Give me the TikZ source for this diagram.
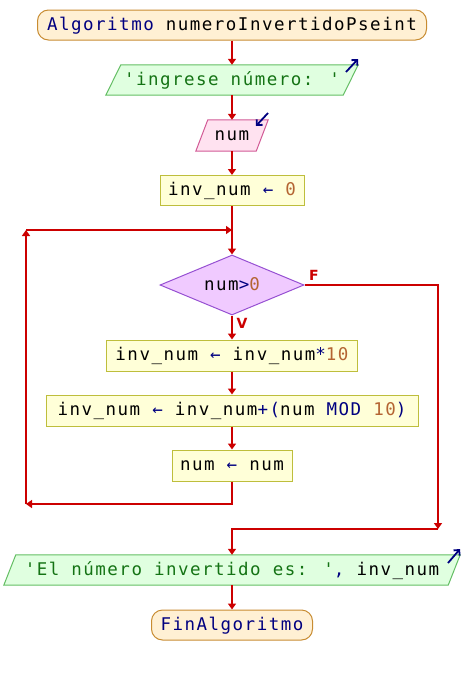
\documentclass[tikz,border=0pt]{standalone}
\usepackage{fontspec}
\usetikzlibrary{arrows.meta,shapes.geometric,backgrounds,calc}
\newfontfamily\codefont[LetterSpace=8.5]{DejaVu Sans Mono}
\newfontfamily\labfont{DejaVu Sans}
\definecolor{kw}{RGB}{0,0,128}
\definecolor{strc}{RGB}{20,115,20}
\definecolor{numc}{RGB}{180,100,50}
\definecolor{flowc}{RGB}{204,0,0}
\definecolor{termfill}{RGB}{255,240,212}
\definecolor{termdraw}{RGB}{200,140,50}
\definecolor{outfill}{RGB}{224,255,224}
\definecolor{outdraw}{RGB}{100,190,100}
\definecolor{infill}{RGB}{255,226,240}
\definecolor{indraw}{RGB}{210,90,150}
\definecolor{asfill}{RGB}{255,255,216}
\definecolor{asdraw}{RGB}{190,190,60}
\definecolor{dfill}{RGB}{240,202,255}
\definecolor{ddraw}{RGB}{150,80,210}
\tikzset{
  base/.style={font=\codefont\fontsize{17.5}{20}\selectfont, inner sep=0pt, minimum height=30pt, text height=13pt, text depth=3pt},
  term/.style={base, draw=termdraw, fill=termfill, line width=1pt, rounded corners=11pt},
  assign/.style={base, draw=asdraw, fill=asfill, line width=1pt},
  para/.style={base},
  outshape/.style={draw=outdraw, fill=outfill, line width=1pt},
  inshape/.style={draw=indraw, fill=infill, line width=1pt},
  cond/.style={base, diamond, draw=ddraw, fill=dfill, line width=1pt, minimum width=144pt, minimum height=60pt, aspect=2.4},
  flow/.style={draw=flowc, line width=1.8pt, -{Triangle[length=6pt,width=8pt]}},
  icon/.style={draw=kw, line width=1.8pt, -{Straight Barb[length=4pt,width=8pt]}},
  lab/.style={font=\labfont\bfseries\fontsize{14}{16}\selectfont, text=flowc, inner sep=0pt}
}
\begin{document}
\begin{tikzpicture}[x=1pt,y=-1pt]
\useasboundingbox (0,0) rectangle (464,675);

\node[term, minimum width=389pt] (start) at (232,25) {\textcolor{kw}{Algoritmo} numeroInvertidoPseint};
\node[para, minimum width=237pt] (o1) at (232,80) {\textcolor{strc}{'ingrese número: '}};
\node[para, minimum width=60pt, minimum height=31pt] (i1) at (232,135.5) {num};
\node[assign, minimum width=144pt] (a1) at (232,190.5) {inv\_num \textcolor{kw}{←} \textcolor{numc}{0}};
\node[cond] (d) at (232,285) {num\textcolor{kw}{>}\textcolor{numc}{0}};
\node[assign, minimum width=251pt, minimum height=31pt] (b1) at (232,355.5) {inv\_num \textcolor{kw}{←} inv\_num\textcolor{kw}{*}\textcolor{numc}{10}};
\node[assign, minimum width=372pt, minimum height=31pt] (b2) at (232,410.5) {inv\_num \textcolor{kw}{←} inv\_num\textcolor{kw}{+(}num \textcolor{kw}{MOD} \textcolor{numc}{10}\textcolor{kw}{)}};
\node[assign, minimum width=120pt, minimum height=31pt] (b3) at (232,465.5) {num \textcolor{kw}{←} num};
\node[para, minimum width=444pt] (o2) at (232,570) {\textcolor{strc}{'El número invertido es: '}\textcolor{kw}{,} inv\_num};
\node[term, minimum width=161pt] (end) at (232,625) {\textcolor{kw}{FinAlgoritmo}};

\begin{pgfonlayer}{background}
  \draw[outshape] ([xshift=7.5pt]o1.north west) -- ([xshift=7.5pt]o1.north east) -- ([xshift=-7.5pt]o1.south east) -- ([xshift=-7.5pt]o1.south west) -- cycle;
  \draw[inshape] ([xshift=6pt]i1.north west) -- ([xshift=6pt]i1.north east) -- ([xshift=-6pt]i1.south east) -- ([xshift=-6pt]i1.south west) -- cycle;
  \draw[outshape] ([xshift=6pt]o2.north west) -- ([xshift=6pt]o2.north east) -- ([xshift=-6pt]o2.south east) -- ([xshift=-6pt]o2.south west) -- cycle;
\end{pgfonlayer}

% icons
\draw[icon] (346,72) -- (358,59);
\draw[icon] (268,113) -- (256,126);
\draw[icon] (448,563) -- (460,549);

\coordinate (j1) at (232,230);
\coordinate (lt) at (26,230);
\coordinate (lb) at (26,504);
\coordinate (rb) at (438,529);

\draw[flow] (start.south) -- (o1.north);
\draw[flow] (o1.south) -- (i1.north);
\draw[flow] (i1.south) -- (a1.north);
\draw[flow] (a1.south) -- (d.north);
\draw[flow] (d.south) -- (b1.north);
\draw[flow] (b1.south) -- (b2.north);
\draw[flow] (b2.south) -- (b3.north);
\draw[flow] (b3.south) |- (lb);
\draw[flow] (lb) -- (lt);
\draw[flow] (lt) -- (j1);
\draw[flow] (d.east) -| (rb);
\draw[flow] (rb) -| (o2.north);
\draw[flow] (o2.south) -- (end.north);

\node[lab] (lf) at (314,275) {F};
\node[lab] (lv) at (242,323) {V};
\end{tikzpicture}
\end{document}
